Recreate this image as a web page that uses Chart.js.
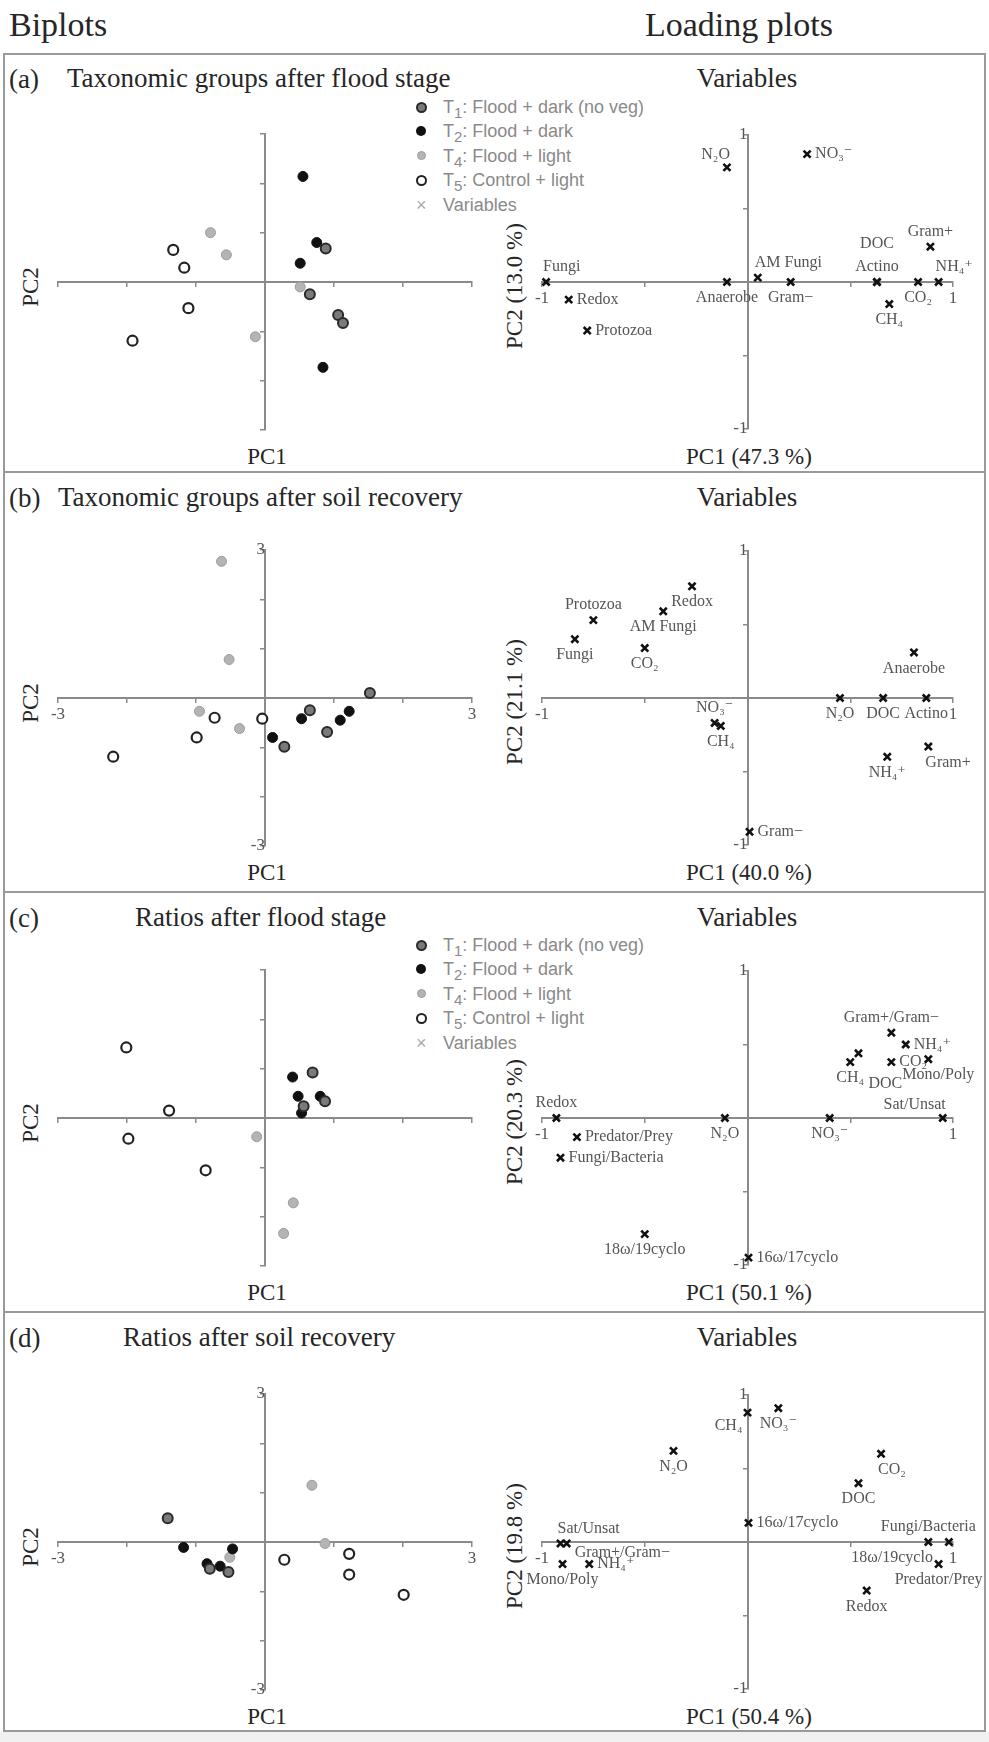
<!DOCTYPE html>
<html>
<head>
<meta charset="utf-8">
<script src="https://cdn.jsdelivr.net/npm/chart.js"></script>
<style>
  html, body { margin: 0; padding: 0; background: #fff; }
  #page { position: relative; width: 989px; height: 1742px; overflow: hidden; background: #fff; }
  .txt { position: absolute; white-space: nowrap; line-height: 1; color: #262626;
         font-family: "Liberation Serif", "Times New Roman", "DejaVu Serif", serif; }
  .frame { position: absolute; border: 2px solid #9a9a9a; box-sizing: border-box; }
  .sep { position: absolute; left: 3px; width: 982px; height: 2px; background: #9a9a9a; }
  canvas { position: absolute; }
  .lg { position: absolute; font-family: "Liberation Sans", Arial, sans-serif; font-size: 18px; color: #8a8a8a; white-space: nowrap; line-height: 1; }
  .mk { position: absolute; box-sizing: border-box; border-radius: 50%; }
</style>
</head>
<body>
<div id="page">
  <div class="frame" style="left:3px;top:53px;width:983px;height:1679px;"></div>
  <div class="sep" style="top:471px"></div>
  <div class="sep" style="top:891px"></div>
  <div class="sep" style="top:1311px"></div>
  <div style="position:absolute;left:0;top:1732px;width:989px;height:10px;background:#f1f1f1"></div>
</div>
<script>
// ===== データ（バイプロット: [PC1, PC2]） =====
const a_T1 = [[0.88, 0.68], [0.65, -0.25], [1.06, -0.67], [1.13, -0.83]];
const a_T2 = [[0.55, 2.14], [0.75, 0.80], [0.51, 0.38], [0.84, -1.73]];
const a_T4 = [[-0.79, 1.00], [-0.56, 0.55], [-0.14, -1.11], [0.51, -0.10]];
const a_T5 = [[-1.33, 0.65], [-1.17, 0.29], [-1.11, -0.53], [-1.92, -1.19]];

const b_T1 = [[1.52, 0.10], [0.65, -0.25], [0.90, -0.69], [0.28, -0.99]];
const b_T2 = [[0.53, -0.42], [0.11, -0.80], [1.09, -0.45], [1.22, -0.27]];
const b_T4 = [[-0.63, 2.77], [-0.52, 0.78], [-0.95, -0.27], [-0.37, -0.62]];
const b_T5 = [[-0.73, -0.40], [-0.04, -0.42], [-0.99, -0.80], [-2.20, -1.19]];

const c_T1 = [[0.69, 0.92], [0.87, 0.34], [0.56, 0.24]];
const c_T2 = [[0.40, 0.83], [0.48, 0.44], [0.53, 0.10], [0.80, 0.44]];
const c_T4 = [[-0.12, -0.38], [0.41, -1.72], [0.27, -2.34]];
const c_T5 = [[-2.01, 1.43], [-1.39, 0.15], [-1.98, -0.42], [-0.86, -1.06]];

const d_T1 = [[-1.41, 0.48], [-0.80, -0.54], [-0.53, -0.61]];
const d_T2 = [[-1.18, -0.11], [-0.84, -0.44], [-0.47, -0.14], [-0.65, -0.49]];
const d_T4 = [[0.68, 1.15], [0.87, -0.03], [-0.51, -0.31]];
const d_T5 = [[0.28, -0.36], [1.22, -0.24], [1.22, -0.66], [2.01, -1.07]];

// ===== データ（ローディング） =====
const loadA_names = ['N\u2082O', 'NO\u2083\u207B', 'Fungi', 'Redox', 'Protozoa', 'Anaerobe', 'AM Fungi', 'Gram\u2212',
  'Actino', 'DOC', 'Gram+', 'CO\u2082', 'NH\u2084\u207A', 'CH\u2084'];
const loadA_pc1 = [-0.10, 0.29, -0.98, -0.87, -0.78, -0.10, 0.05, 0.21, 0.63, 0.63, 0.89, 0.83, 0.93, 0.69];
const loadA_pc2 = [0.78, 0.87, 0.00, -0.12, -0.33, 0.00, 0.03, 0.00, 0.00, 0.00, 0.24, 0.00, 0.00, -0.15];

const loadB_names = ['Redox', 'AM Fungi', 'Protozoa', 'Fungi', 'CO\u2082', 'Anaerobe', 'N\u2082O', 'DOC', 'Actino',
  'NO\u2083\u207B', 'CH\u2084', 'Gram+', 'NH\u2084\u207A', 'Gram\u2212'];
const loadB_pc1 = [-0.27, -0.41, -0.75, -0.84, -0.50, 0.81, 0.45, 0.66, 0.87, -0.16, -0.13, 0.88, 0.68, 0.01];
const loadB_pc2 = [0.76, 0.59, 0.53, 0.40, 0.34, 0.31, 0.00, 0.00, 0.00, -0.17, -0.19, -0.33, -0.40, -0.91];

const loadC_names = ['Redox', 'Predator/Prey', 'Fungi/Bacteria', 'N\u2082O', 'NO\u2083\u207B', 'Sat/Unsat', '18\u03C9/19cyclo',
  '16\u03C9/17cyclo', 'Gram+/Gram\u2212', 'NH\u2084\u207A', 'CO\u2082', 'Mono/Poly', 'CH\u2084', 'DOC'];
const loadC_pc1 = [-0.93, -0.83, -0.91, -0.11, 0.40, 0.95, -0.50, 0.005, 0.70, 0.77, 0.70, 0.88, 0.50, 0.54];
const loadC_pc2 = [0.00, -0.13, -0.27, 0.00, 0.00, 0.00, -0.79, -0.95, 0.58, 0.50, 0.38, 0.40, 0.38, 0.44];

const loadD_names = ['CH\u2084', 'NO\u2083\u207B', 'N\u2082O', 'CO\u2082', 'DOC', '16\u03C9/17cyclo', 'Sat/Unsat', 'Gram+/Gram\u2212',
  'Mono/Poly', 'NH\u2084\u207A', 'Fungi/Bacteria', '18\u03C9/19cyclo', 'Predator/Prey', 'Redox'];
const loadD_pc1 = [0.00, 0.15, -0.36, 0.65, 0.54, 0.005, -0.91, -0.88, -0.90, -0.77, 0.88, 0.98, 0.93, 0.58];
const loadD_pc2 = [0.88, 0.91, 0.62, 0.60, 0.40, 0.13, -0.01, -0.01, -0.15, -0.15, 0.00, 0.00, -0.15, -0.33];

// ラベルの置き場所（r=右, l=左, a=上, b=下 ...）
const loadA_where = ['al', 'r', 'ar', 'r', 'r', 'b', 'ar', 'b', 'a', 'aa', 'a', 'b', 'ar', 'b'];
const loadB_where = ['b', 'b', 'a', 'b', 'b', 'b', 'b', 'b', 'b', 'a', 'b', 'br', 'b', 'r'];
const loadC_where = ['a', 'r', 'r', 'b', 'b', 'al', 'b', 'r', 'a', 'r', 'r', 'bs', 'b', 'bbr'];
const loadD_where = ['blx', 'b', 'b', 'br', 'b', 'r', 'ar', 'rb', 'b', 'r', 'a', 'bll', 'b', 'b'];

// ===== テキスト =====
const panelLetters = ['(a)', '(b)', '(c)', '(d)'];
const panelTitles = ['Taxonomic groups after flood stage', 'Taxonomic groups after soil recovery',
  'Ratios after flood stage', 'Ratios after soil recovery'];
const loadingPC1 = ['PC1 (47.3 %)', 'PC1 (40.0 %)', 'PC1 (50.1 %)', 'PC1 (50.4 %)'];
const loadingPC2 = ['PC2 (13.0 %)', 'PC2 (21.1 %)', 'PC2 (20.3 %)', 'PC2 (19.8 %)'];
const legendTexts = ['T<sub>1</sub>: Flood + dark (no veg)', 'T<sub>2</sub>: Flood + dark',
  'T<sub>4</sub>: Flood + light', 'T<sub>5</sub>: Control + light', 'Variables'];

(function () {
  'use strict';

  const SERIF = '"Liberation Serif", "Times New Roman", "DejaVu Serif", serif';
  const page = document.getElementById('page');

  // 行の位置
  const rowTops = [53, 472, 892, 1312];
  const rowAxisY = [282, 698, 1118, 1542];
  const titleX = [67, 58, 135, 123];

  function addText(html, x, y, size, align, extra) {
    const d = document.createElement('div');
    d.className = 'txt';
    d.innerHTML = html;
    d.style.left = x + 'px';
    d.style.top = y + 'px';
    d.style.fontSize = size + 'px';
    const tx = align === 'center' ? '-50%' : '0';
    d.style.transform = 'translate(' + tx + ', -50%)' + (extra || '');
    page.appendChild(d);
    return d;
  }

  // 凡例
  const legendMarks = [
    'width:11px;height:11px;background:#7a7a7a;border:2px solid #2a2a2a;',
    'width:10px;height:10px;background:#111;',
    'width:9px;height:9px;background:#b4b4b4;border:1px solid #9c9c9c;',
    'width:11px;height:11px;background:#fff;border:2px solid #222;'
  ];
  function addLegend(top) {
    legendTexts.forEach((t, i) => {
      const cy = top + i * 24.4;
      if (i < 4) {
        const m = document.createElement('div');
        m.className = 'mk';
        m.style.cssText += legendMarks[i];
        const w = parseFloat(legendMarks[i].match(/width:(\d+)/)[1]);
        m.style.left = (421 - w / 2) + 'px';
        m.style.top = (cy - w / 2) + 'px';
        page.appendChild(m);
      } else {
        const m = document.createElement('div');
        m.className = 'lg';
        m.textContent = '\u00D7';
        m.style.left = '416px';
        m.style.top = (cy - 9) + 'px';
        m.style.color = '#aaa';
        page.appendChild(m);
      }
      const d = document.createElement('div');
      d.className = 'lg';
      d.innerHTML = t;
      d.style.left = '443px';
      d.style.top = (cy - 9) + 'px';
      page.appendChild(d);
    });
  }

  // ヘッダー
  addText('Biplots', 9, 25, 34, 'left');
  addText('Loading plots', 645, 25, 34, 'left');

  rowTops.forEach((top, r) => {
    const cy = rowAxisY[r];
    addText(panelLetters[r], 9, top + 26, 27, 'left');
    addText(panelTitles[r], titleX[r], top + 25, 27, 'left');
    addText('Variables', 747, top + 25, 27, 'center');
    addText('PC1', 267, cy + 174, 23, 'center');
    addText(loadingPC1[r], 749, cy + 174, 23, 'center');
    addText('PC2', 30, cy + 5, 23, 'center', ' rotate(-90deg)');
    addText(loadingPC2[r], 514, cy + 4, 23, 'center', ' rotate(-90deg)');
  });
  addLegend(rowTops[0] + 54);
  addLegend(rowTops[2] + 53);

  // ===== ラベル描画プラグイン =====
  const ANCHORS = {
    r: [8, 0, 'left'], l: [-8, 0, 'right'], a: [0, -15, 'center'], b: [0, 16, 'center'],
    ar: [-3, -15, 'left'], al: [3, -13, 'right'], br: [-3, 16, 'left'], bl: [3, 15, 'right'],
    aa: [0, -38, 'center'], rb: [8, 9, 'left'], bll: [-16, 16, 'right'], bbr: [10, 30, 'left'],
    blx: [-5, 13, 'right'], bs: [10, 16, 'center']
  };
  const pointLabels = {
    id: 'pointLabels',
    afterDatasetsDraw(chart, args, opts) {
      if (!opts || !opts.names) return;
      const ctx = chart.ctx;
      const meta = chart.getDatasetMeta(0);
      ctx.save();
      ctx.font = '16px ' + SERIF;
      ctx.fillStyle = '#555';
      ctx.textBaseline = 'middle';
      meta.data.forEach((pt, i) => {
        const [dx, dy, align] = ANCHORS[opts.where[i]] || ANCHORS.r;
        ctx.textAlign = align;
        ctx.fillText(opts.names[i], pt.x + dx, pt.y + dy);
      });
      ctx.restore();
    }
  };

  function axisScale(lim, step, showEnds, cross) {
    const pos = {};
    pos[cross] = 0;
    return {
      type: 'linear',
      min: -lim,
      max: lim,
      position: pos,
      grid: { drawOnChartArea: false, drawTicks: true, tickLength: 4, color: '#8a8a8a', lineWidth: 1.5 },
      border: { display: true, color: '#8a8a8a', width: 2 },
      ticks: {
        stepSize: step,
        autoSkip: false,
        maxRotation: 0,
        padding: 2,
        color: '#555',
        font: { family: SERIF, size: 17 },
        callback: (v) => (showEnds && Math.abs(Math.abs(v) - lim) < 1e-9) ? String(v) : ''
      }
    };
  }

  function makeCanvas(left, top, w, h) {
    const c = document.createElement('canvas');
    c.width = w;
    c.height = h;
    c.style.left = left + 'px';
    c.style.top = top + 'px';
    c.style.width = w + 'px';
    c.style.height = h + 'px';
    page.appendChild(c);
    return c;
  }

  function toPts(arr) { return arr.map(p => ({ x: p[0], y: p[1] })); }

  function biplot(r, t1, t2, t4, t5, showEnds) {
    const cy = rowAxisY[r];
    const c = makeCanvas(38, cy - 168, 454, 336);
    const base = { pointRadius: 5, pointHoverRadius: 5, clip: false, showLine: false };
    new Chart(c.getContext('2d'), {
      type: 'scatter',
      data: {
        datasets: [
          Object.assign({ label: 'T1', data: toPts(t1), backgroundColor: '#7a7a7a', borderColor: '#2a2a2a', borderWidth: 2 }, base),
          Object.assign({ label: 'T2', data: toPts(t2), backgroundColor: '#111', borderColor: '#111', borderWidth: 1 }, base),
          Object.assign({ label: 'T4', data: toPts(t4), backgroundColor: '#b4b4b4', borderColor: '#9c9c9c', borderWidth: 1 }, base),
          Object.assign({ label: 'T5', data: toPts(t5), backgroundColor: '#fff', borderColor: '#222', borderWidth: 2.2 }, base)
        ]
      },
      options: {
        responsive: false,
        animation: false,
        layout: { padding: 20 },
        plugins: { legend: { display: false }, tooltip: { enabled: false } },
        scales: { x: axisScale(3, 1, showEnds, 'y'), y: axisScale(3, 1, showEnds, 'x') }
      }
    });
  }

  function loading(r, names, pc1, pc2, where) {
    const cy = rowAxisY[r];
    // 右側はラベルがはみ出すので余白を広めに
    const c = makeCanvas(522, cy - 167, 465, 334);
    new Chart(c.getContext('2d'), {
      type: 'scatter',
      data: {
        datasets: [{
          label: 'Variables',
          data: pc1.map((v, i) => ({ x: v, y: pc2[i] })),
          pointStyle: 'crossRot',
          pointRadius: 5,
          pointHoverRadius: 5,
          borderColor: '#111',
          borderWidth: 2.6,
          clip: false
        }]
      },
      options: {
        responsive: false,
        animation: false,
        layout: { padding: { left: 20, right: 34, top: 20, bottom: 20 } },
        plugins: {
          legend: { display: false },
          tooltip: { enabled: false },
          pointLabels: { names: names, where: where }
        },
        scales: { x: axisScale(1, 0.5, true, 'y'), y: axisScale(1, 0.5, true, 'x') }
      },
      plugins: [pointLabels]
    });
  }

  biplot(0, a_T1, a_T2, a_T4, a_T5, false);
  biplot(1, b_T1, b_T2, b_T4, b_T5, true);
  biplot(2, c_T1, c_T2, c_T4, c_T5, false);
  biplot(3, d_T1, d_T2, d_T4, d_T5, true);

  loading(0, loadA_names, loadA_pc1, loadA_pc2, loadA_where);
  loading(1, loadB_names, loadB_pc1, loadB_pc2, loadB_where);
  loading(2, loadC_names, loadC_pc1, loadC_pc2, loadC_where);
  loading(3, loadD_names, loadD_pc1, loadD_pc2, loadD_where);
})();
</script>
</body>
</html>
